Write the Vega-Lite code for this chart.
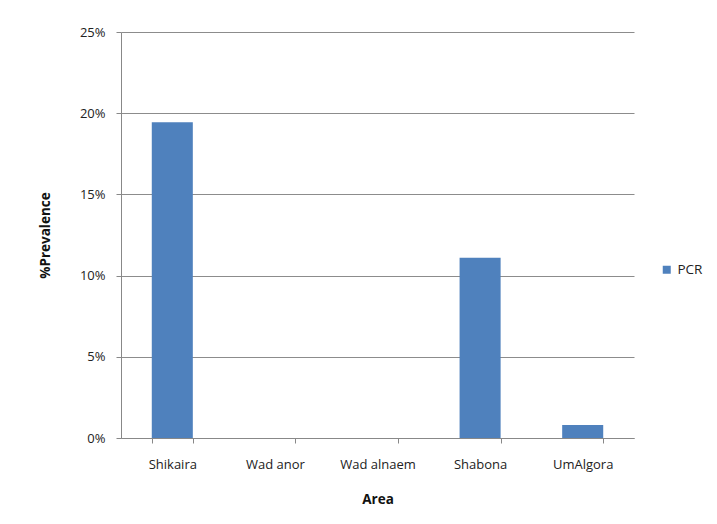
{
  "$schema": "https://vega.github.io/schema/vega-lite/v6.json",
  "autosize": "none",
  "width": 513,
  "height": 406,
  "padding": {"left": 121, "top": 32, "right": 83, "bottom": 86},
  "background": "white",
  "data": {
    "values": [
      {"area": "Shikaira", "series": "PCR", "prevalence": 0.1945},
      {"area": "Wad anor", "series": "PCR", "prevalence": 0},
      {"area": "Wad alnaem", "series": "PCR", "prevalence": 0},
      {"area": "Shabona", "series": "PCR", "prevalence": 0.111},
      {"area": "UmAlgora", "series": "PCR", "prevalence": 0.008}
    ]
  },
  "mark": {"type": "bar", "color": "#4F81BD"},
  "encoding": {
    "x": {
      "field": "area",
      "type": "nominal",
      "sort": null,
      "title": "Area",
      "scale": {"paddingInner": 0.6, "paddingOuter": 0.3},
      "axis": {
        "labelAngle": 0,
        "tickBand": "extent",
        "tickSize": 5,
        "labelPadding": 15,
        "titlePadding": 21
      }
    },
    "y": {
      "field": "prevalence",
      "type": "quantitative",
      "title": "%Prevalence",
      "scale": {"domain": [0, 0.25], "nice": false},
      "axis": {
        "values": [0, 0.05, 0.1, 0.15, 0.2, 0.25],
        "format": ".0%",
        "tickSize": 5,
        "labelPadding": 11,
        "titlePadding": 27,
        "grid": true
      }
    },
    "fill": {
      "field": "series",
      "type": "nominal",
      "scale": {"range": ["#4F81BD"]},
      "legend": {
        "title": null,
        "orient": "none",
        "legendX": 539,
        "legendY": 231,
        "symbolType": "square",
        "symbolSize": 64,
        "symbolStrokeWidth": 0,
        "labelFontSize": 13.5,
        "labelFont": "Open Sans",
        "labelColor": "#222222"
      }
    }
  },
  "config": {
    "view": {"stroke": null},
    "axis": {
      "labelFont": "Open Sans",
      "labelFontSize": 13,
      "labelColor": "#222222",
      "titleFont": "Open Sans",
      "titleFontSize": 13.5,
      "titleFontWeight": "bold",
      "titleColor": "#111111",
      "domainColor": "#888888",
      "tickColor": "#888888",
      "gridColor": "#8c8c8c",
      "domainWidth": 1,
      "gridWidth": 1
    }
  }
}
